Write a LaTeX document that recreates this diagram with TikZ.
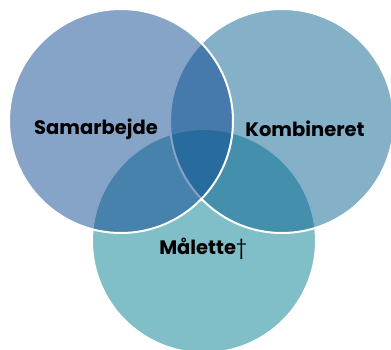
\documentclass[tikz,border=0pt]{standalone}
\usepackage{fontspec}
\setmainfont{Poppins}
\usetikzlibrary{positioning}
\definecolor{samblue}{RGB}{13,71,145}
\definecolor{kombblue}{RGB}{9,97,145}
\definecolor{maalblue}{RGB}{1,125,145}

\begin{document}
\begin{tikzpicture}[x=1pt, y=-1pt,
		ring/.style={circle, minimum size=224pt, inner sep=0pt, draw=white, line width=2pt, fill opacity=0.5},
		ringtext/.style={font=\fontsize{19.5}{22}\selectfont\bfseries, text=black}]
		\useasboundingbox (0,0) rectangle (391,349);
		\clip (0,0) rectangle (391,349);
		\node[ring, fill=maalblue](maal) at (204,241) {};
		\node[ring, fill=kombblue](komb) at (282,121) {};
		\node[ring, fill=samblue](sam) at (121,121) {};
		\node[ringtext](samtext) at (96,129) {Samarbejde};
		\node[ringtext](kombtext) at (305,129) {Kombineret};
		\node[ringtext](maaltext) at (203,249) {Målette{\mdseries †}};
	\end{tikzpicture}
\end{document}
